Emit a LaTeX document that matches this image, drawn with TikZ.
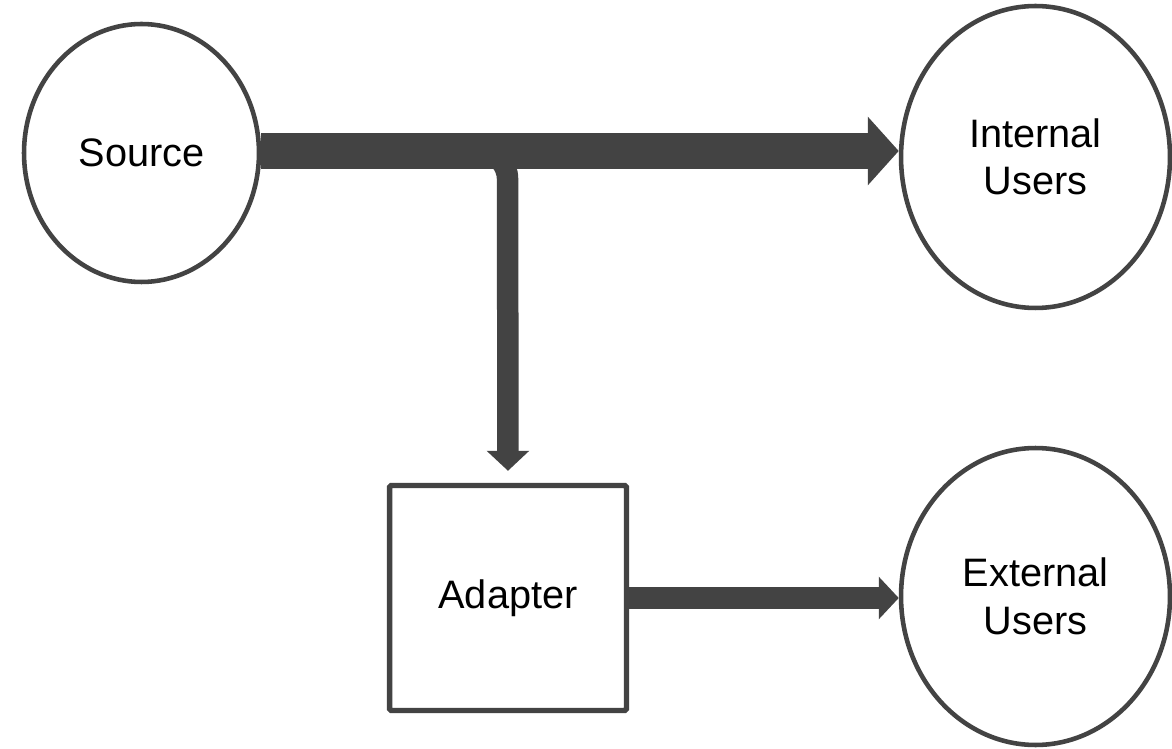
\documentclass[tikz,border=0pt]{standalone}
\usepackage{fontspec}
\setmainfont{Liberation Sans}
\usetikzlibrary{arrows.meta,shapes,positioning}
\definecolor{flowGray}{RGB}{67,67,67}
\newcommand{\myLabelFont}{\fontsize{22.6}{27}\selectfont}

\begin{document}
\begin{tikzpicture}[x=0.02cm,y=-0.02cm,
	UserNode/.style={ellipse,fill=white,draw=flowGray,line width=2.6pt,font=\myLabelFont,align=center,inner sep=0pt},
	AdapterBox/.style={rectangle,fill=white,draw=flowGray,line width=3.1pt,rounded corners=1pt,font=\myLabelFont,minimum width=4.74cm,minimum height=4.5cm},
	MainFlow/.style={draw=flowGray,line width=0.72cm,-{Triangle[length=0.62cm,width=1.34cm]}},
	Flow/.style={draw=flowGray,line width=0.43cm,-{Triangle[length=0.4cm,width=0.83cm]}},
]
	\useasboundingbox[fill=white] (0,0) rectangle (1172,749);
	%\draw[help lines,step=50,gray!20] (0,0) grid (1172,749);
	\node[UserNode,minimum width=4.7cm,minimum height=5.16cm] (src) at (141.5,153) {Source};
	\node[UserNode,minimum width=5.38cm,minimum height=6.04cm] (int) at (1035.5,157) {Internal\\Users};
	\node[UserNode,minimum width=5.38cm,minimum height=5.94cm] (ext) at (1035.5,596.5) {External\\Users};
	\node[AdapterBox] (adp) at (508,598) {Adapter};
	\coordinate (split) at (507.5,151);

	\draw[Flow,rounded corners=0.56cm,shorten >=0.24cm] (src.east |- split) -- (split) -- (adp.north);
	\draw[MainFlow] (src.east |- split) -- (int.west |- split);
	\draw[Flow] (adp.east) -- (adp.east -| ext.west);
\end{tikzpicture}
\end{document}
